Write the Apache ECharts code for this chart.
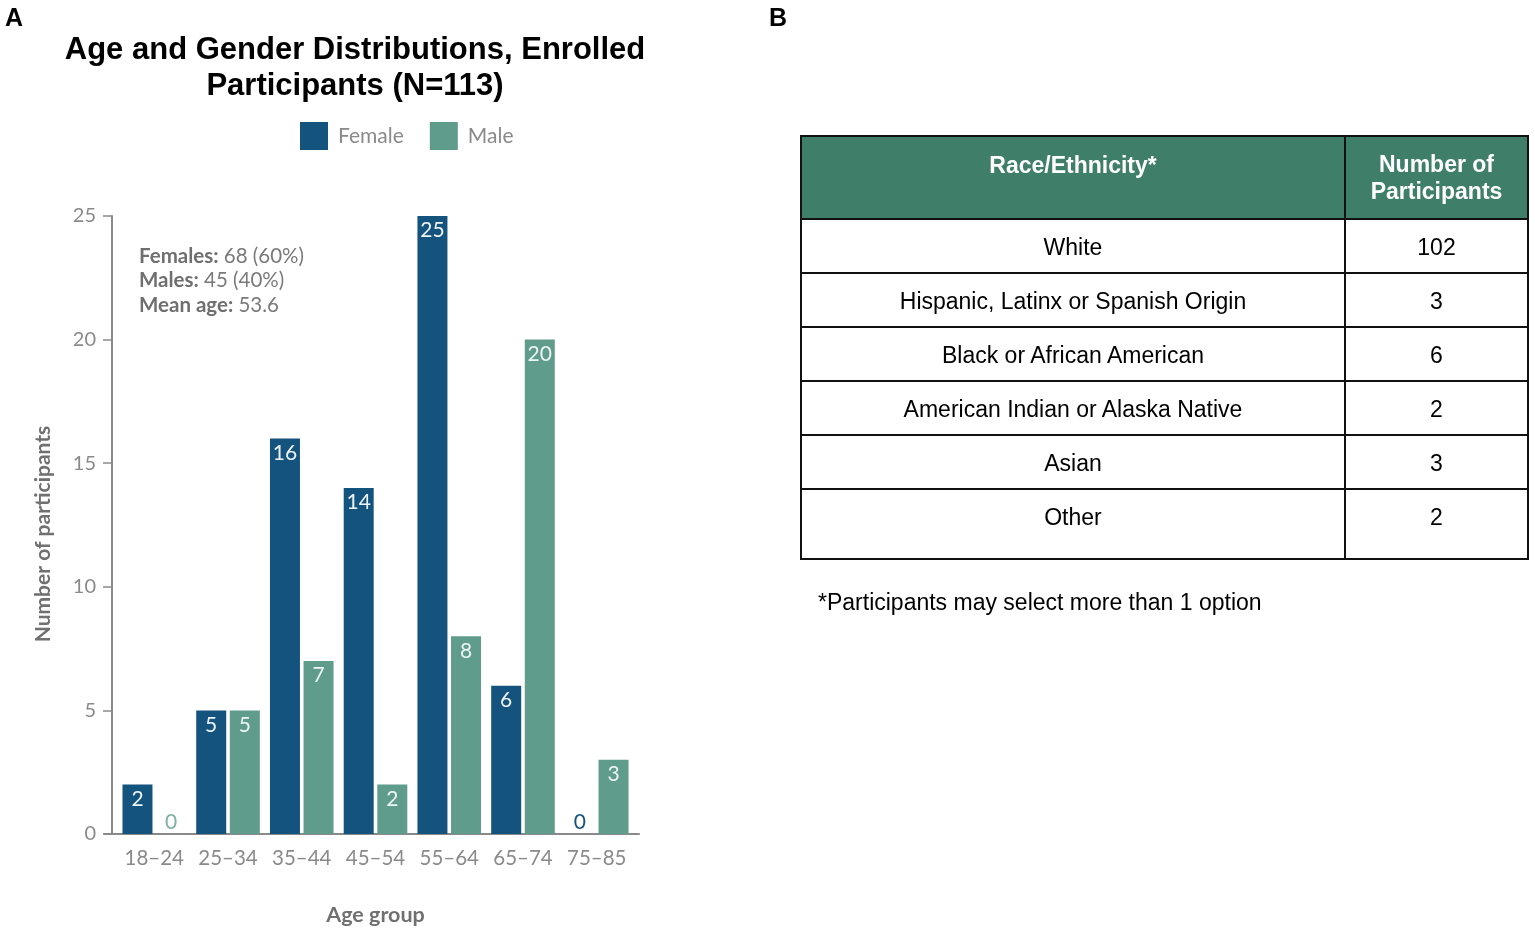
<!DOCTYPE html>
<html>
<head>
<meta charset="utf-8">
<script src="https://cdn.jsdelivr.net/npm/echarts@6/dist/echarts.min.js"></script>
<style>
  html, body { margin: 0; padding: 0; background: #fff; }
  #chart { position: absolute; left: 0; top: 0; width: 1535px; height: 935px; }
  #tbl { position: absolute; left: 800px; top: 135px; border-collapse: collapse;
         font-family: "Liberation Sans", Arial, sans-serif; font-size: 23px; color: #000; }
  #tbl td, #tbl th { border: 2.5px solid #111; text-align: center; vertical-align: top; padding: 0; }
  #tbl th { background: #3f7f6a; color: #fff; font-weight: bold; line-height: 27px; font-size: 23px; }
  .panel { position: absolute; font-family: "Liberation Sans", Arial, sans-serif; font-weight: bold; font-size: 25px; }
  #foot { position: absolute; left: 818px; top: 589px; font-family: "Liberation Sans", Arial, sans-serif; font-size: 23px; }
</style>
</head>
<body>
<div id="chart"></div>
<div class="panel" style="left:5px;top:3px;">A</div>
<div class="panel" style="left:769px;top:3px;">B</div>
<table id="tbl"></table>
<div id="foot"></div>
<script>
// ---- data ----
const ageGroups = ['18\u201324', '25\u201334', '35\u201344', '45\u201354', '55\u201364', '65\u201374', '75\u201385'];
const femaleCounts = [2, 5, 16, 14, 25, 6, 0];
const maleCounts = [0, 5, 7, 2, 8, 20, 3];
const yTicks = [0, 5, 10, 15, 20, 25];
const seriesNames = ['Female', 'Male'];
const summaryLines = [['Females:', '68 (60%)'], ['Males:', '45 (40%)'], ['Mean age:', '53.6']];
const raceCategories = ['White', 'Hispanic, Latinx or Spanish Origin', 'Black or  African American',
                        'American Indian or Alaska Native', 'Asian', 'Other'];
const raceCounts = [102, 3, 6, 2, 3, 2];
const tableHeaders = ['Race/Ethnicity*', 'Number of<br>Participants'];
const footnote = '*Participants may select more than 1 option';

// ---- styles ----
const FEMALE = '#15537f';
const MALE = '#5f9c8c';
const LBL = "Lato, 'Open Sans', sans-serif";

function barData(vals, zeroColor) {
  return vals.map(v => v === 0
    ? { value: v, label: { position: 'top', color: zeroColor, distance: 1 } }
    : v);
}

const chart = echarts.init(document.getElementById('chart'));
const gLeft = 117.4, gWidth = 516.2, gTop = 216, gHeight = 618;

chart.setOption({
  animation: false,
  title: {
    text: 'Age and Gender Distributions, Enrolled\nParticipants (N=113)',
    left: 355, top: 32, textAlign: 'center', padding: 0,
    textStyle: { fontFamily: "'Liberation Sans', Arial, sans-serif", fontWeight: 'bold', fontSize: 31, lineHeight: 36, color: '#000' }
  },
  legend: {
    left: 300, top: 122, itemWidth: 28, itemHeight: 28, itemGap: 26, padding: 0,
    icon: 'rect',
    textStyle: { fontFamily: LBL, fontSize: 21, color: '#8a8a8a', padding: [0, 0, 0, 5] },
    data: seriesNames
  },
  grid: [
    { left: gLeft, top: gTop, width: gWidth, height: gHeight },
    { left: 104, top: gTop, width: 535, height: gHeight }
  ],
  xAxis: [
    {
      type: 'category', gridIndex: 0, data: ageGroups,
      axisLine: { show: false }, axisTick: { show: false },
      axisLabel: { interval: 0, fontFamily: LBL, fontSize: 20.5, color: '#8a8a8a', margin: 14 },
      name: 'Age group', nameLocation: 'middle', nameGap: 70,
      nameTextStyle: { fontFamily: LBL, fontSize: 21.5, fontWeight: 'bold', color: '#707070' }
    },
    {
      type: 'value', gridIndex: 1, min: 0, max: 1,
      axisLine: { show: true, lineStyle: { color: '#8a8a8a', width: 2 } },
      axisTick: { show: false }, axisLabel: { show: false }, splitLine: { show: false }
    }
  ],
  yAxis: [
    {
      type: 'value', gridIndex: 0, min: yTicks[0], max: yTicks[yTicks.length - 1], interval: 5,
      offset: gLeft - 112,
      axisLine: { show: true, lineStyle: { color: '#8a8a8a', width: 2 } },
      axisTick: { show: true, length: 9, lineStyle: { color: '#8a8a8a', width: 1.5 } },
      splitLine: { show: false },
      axisLabel: { fontFamily: LBL, fontSize: 20, color: '#8a8a8a', margin: 16 },
      name: 'Number of participants', nameLocation: 'middle', nameGap: 58,
      nameTextStyle: { fontFamily: LBL, fontSize: 21, fontWeight: 'bold', color: '#707070', padding: [0, 18, 0, 0] }
    },
    { type: 'value', gridIndex: 1, show: false, min: 0, max: 1 }
  ],
  series: [
    {
      name: seriesNames[0], type: 'bar', xAxisIndex: 0, yAxisIndex: 0,
      data: barData(femaleCounts, FEMALE),
      barWidth: 30, barGap: '12%',
      itemStyle: { color: FEMALE },
      label: { show: true, position: 'insideTop', distance: 4, color: '#eef3f7', fontFamily: LBL, fontSize: 21 }
    },
    {
      name: seriesNames[1], type: 'bar', xAxisIndex: 0, yAxisIndex: 0,
      data: barData(maleCounts, '#7fb0a4'),
      barWidth: 30, barGap: '12%',
      itemStyle: { color: MALE },
      label: { show: true, position: 'insideTop', distance: 4, color: '#eef5f3', fontFamily: LBL, fontSize: 21 }
    }
  ],
  graphic: [{
    type: 'text', left: 139, top: 244,
    style: {
      text: summaryLines.map(l => '{b|' + l[0] + '} ' + l[1]).join('\n'),
      fontFamily: LBL, fontSize: 20.5, lineHeight: 24.5, fill: '#7a7a7a',
      rich: { b: { fontFamily: LBL, fontSize: 20.5, fontWeight: 'bold', fill: '#6f6f6f', lineHeight: 24.5 } }
    }
  }]
});

// ---- table ----
const tbl = document.getElementById('tbl');
const colW = [544, 183];
let html = '<tr>' + tableHeaders.map((h, i) =>
  `<th style="width:${colW[i]}px;height:83px;padding-top:${i === 0 ? 15 : 14}px;box-sizing:border-box;">${h}</th>`).join('') + '</tr>';
raceCategories.forEach((c, i) => {
  const h = i === raceCategories.length - 1 ? 70 : 54;
  html += `<tr><td style="height:${h}px;padding-top:14px;box-sizing:border-box;">${c}</td>` +
          `<td style="height:${h}px;padding-top:14px;box-sizing:border-box;">${raceCounts[i]}</td></tr>`;
});
tbl.innerHTML = html;
document.getElementById('foot').textContent = footnote;
</script>
</body>
</html>
